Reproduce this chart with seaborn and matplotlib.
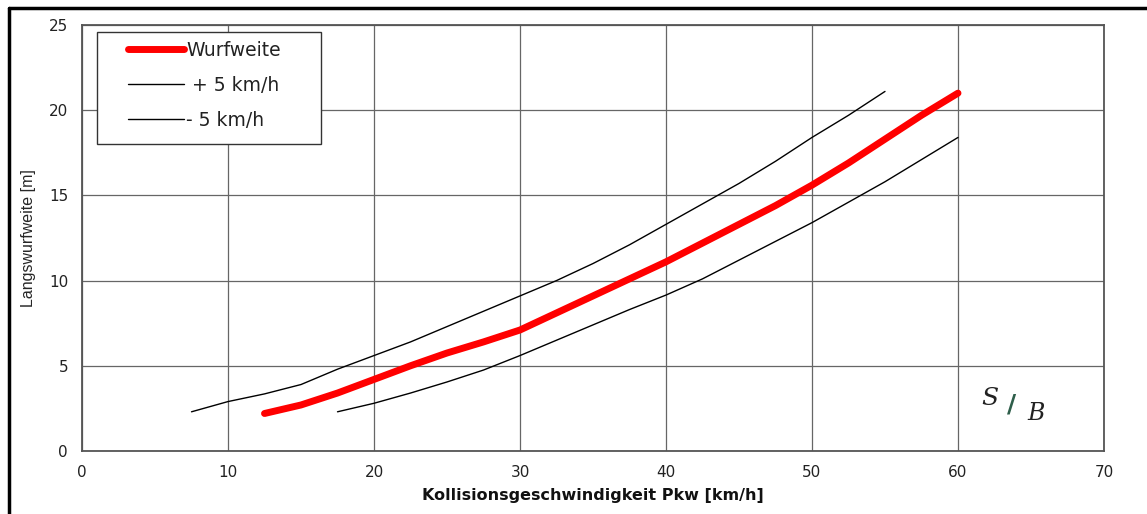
import seaborn as sns
import pandas as pd
import numpy as np
import matplotlib.pyplot as plt
from matplotlib.lines import Line2D
from matplotlib.patches import Rectangle

# Wurfweite (Mittelwert)
v_wurf = [12.5, 15, 17.5, 20, 22.5, 25, 27.5, 30, 32.5, 35, 37.5, 40,
          42.5, 45, 47.5, 50, 52.5, 55, 57.5, 60]
s_wurf = [2.2, 2.7, 3.4, 4.2, 5.0, 5.75, 6.4, 7.1, 8.1, 9.1, 10.1, 11.1,
          12.2, 13.3, 14.4, 15.6, 16.9, 18.3, 19.7, 21.0]

# + 5 km/h
v_plus = [7.5, 10, 12.5, 15, 17.5, 20, 22.5, 25, 27.5, 30, 32.5, 35, 37.5,
          40, 42.5, 45, 47.5, 50, 52.5, 55]
s_plus = [2.3, 2.9, 3.35, 3.9, 4.8, 5.6, 6.4, 7.3, 8.2, 9.1, 10.0, 11.0,
          12.1, 13.3, 14.5, 15.7, 17.0, 18.4, 19.7, 21.1]

# - 5 km/h
v_minus = [17.5, 20, 22.5, 25, 27.5, 30, 32.5, 35, 37.5, 40, 42.5, 45,
           47.5, 50, 52.5, 55, 57.5, 60]
s_minus = [2.3, 2.8, 3.4, 4.05, 4.75, 5.6, 6.5, 7.4, 8.3, 9.15, 10.1, 11.2,
           12.3, 13.4, 14.6, 15.8, 17.1, 18.4]

x_ticks = [0, 10, 20, 30, 40, 50, 60, 70]
y_ticks = [0, 5, 10, 15, 20, 25]

if __name__ == '__main__':
    sns.set_style("white")
    plt.rcParams['font.family'] = ['DejaVu Sans']

    fig = plt.figure(figsize=(11.47, 5.14), dpi=100)
    ax = fig.add_axes([0.0715, 0.1226, 0.891, 0.8288])

    sns.lineplot(x=v_plus, y=s_plus, ax=ax, color='black', lw=1.0,
                 label=' + 5 km/h', zorder=3)
    sns.lineplot(x=v_minus, y=s_minus, ax=ax, color='black', lw=1.0,
                 label='- 5 km/h', zorder=3)
    sns.lineplot(x=v_wurf, y=s_wurf, ax=ax, color='black', lw=1.0, zorder=3)
    sns.lineplot(x=v_wurf, y=s_wurf, ax=ax, color='#ff0000', lw=5.0,
                 label='Wurfweite', zorder=4, solid_capstyle='round')

    ax.set_xlim(0, 70)
    ax.set_ylim(0, 25)
    ax.set_xticks(x_ticks)
    ax.set_yticks(y_ticks)
    ax.grid(True, color='#666666', lw=0.9)
    for sp in ax.spines.values():
        sp.set_color('#555555')
        sp.set_linewidth(1.3)
    ax.tick_params(axis='both', direction='out', length=4, width=1,
                   color='#555555', labelsize=11, pad=6,
                   labelcolor='#222222')

    ax.set_xlabel("Kollisionsgeschwindigkeit Pkw [km/h]", fontsize=11.5,
                  fontweight='bold', labelpad=6, color='#111111')
    ax.set_ylabel("Langswurfweite [m]", fontsize=11.5, labelpad=9,
                  family=['Liberation Sans Narrow', 'Liberation Sans'])

    # legend box (wider than the entries, as in the original)
    ax.add_patch(Rectangle((15 / 1022, 1 - 119 / 426), 224 / 1022, 112 / 426,
                           transform=ax.transAxes, facecolor='white',
                           edgecolor='#333333', lw=1.0, zorder=5))

    h, l = ax.get_legend_handles_labels()
    order = [l.index('Wurfweite'), l.index(' + 5 km/h'), l.index('- 5 km/h')]
    leg = ax.legend([h[i] for i in order], [l[i] for i in order],
                    loc='upper left', bbox_to_anchor=(46 / 1022, 1 - 16 / 426),
                    fontsize=13.5, frameon=False, borderpad=0,
                    labelspacing=0.85, handlelength=3.0, handletextpad=0.1,
                    borderaxespad=0)
    leg.set_zorder(6)
    for t in leg.get_texts():
        t.set_color('#222222')

    # logo
    ax.text(0.888, 0.124, "S", transform=ax.transAxes, fontsize=18,
            family='DejaVu Serif', style='italic', color='#222222',
            ha='center', va='center')
    ax.text(0.910, 0.108, "/", transform=ax.transAxes, fontsize=18,
            family='DejaVu Sans', fontweight='bold', color='#2e5e4a',
            ha='center', va='center')
    ax.text(0.934, 0.089, "B", transform=ax.transAxes, fontsize=17,
            family='DejaVu Serif', style='italic', color='#222222',
            ha='center', va='center')

    # outer frame of the scanned figure
    fig.add_artist(Line2D([9 / 1147, 9 / 1147], [0, 1 - 8 / 514],
                          transform=fig.transFigure, color='black', lw=2.5))
    fig.add_artist(Line2D([9 / 1147, 1], [1 - 8 / 514, 1 - 8 / 514],
                          transform=fig.transFigure, color='black', lw=2.5))

    fig.savefig('out.png', dpi=100)
